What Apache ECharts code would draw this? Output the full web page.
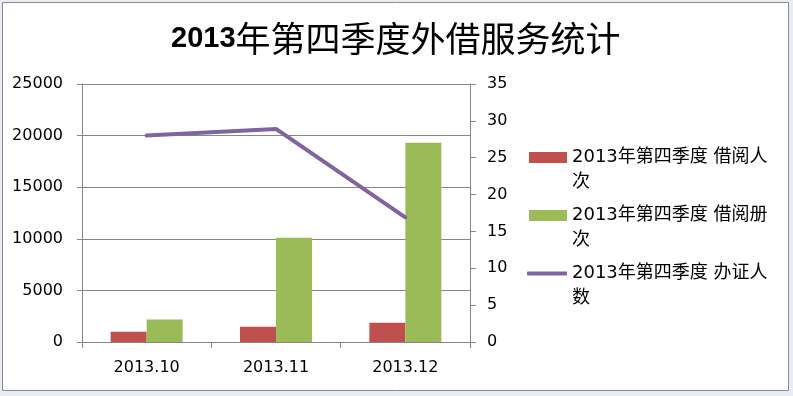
<!DOCTYPE html>
<html>
<head>
<meta charset="utf-8">
<script src="https://cdn.jsdelivr.net/npm/echarts@6/dist/echarts.min.js"></script>
<style>html,body{margin:0;padding:0;}#c{width:793px;height:396px;}</style>
</head>
<body>
<div id="c"></div>
<script>
const categories = ['2013.10', '2013.11', '2013.12'];
const borrowPeople = [1000, 1480, 1870];
const borrowBooks = [2170, 10100, 19300];
const cardsIssued = [28, 28.9, 16.9];
const leftTicks = { min: 0, max: 25000, interval: 5000 };
const rightTicks = { min: 0, max: 35, interval: 5 };
const names = ['2013年第四季度 借阅人次', '2013年第四季度 借阅册次', '2013年第四季度 办证人数'];
const colors = ['#C0504D', '#9BBB59', '#8064A2'];

const chart = echarts.init(document.getElementById('c'), null, { renderer: 'canvas' });
const axisGray = '#868686';
const legendText = {
  fontSize: 18, lineHeight: 25, color: '#000',
  fontFamily: 'DejaVu Sans, Noto Sans CJK SC'
};
const fmt = n => ' \n' + n.slice(0, -1) + '\n' + n.slice(-1);
const axisFont = { fontSize: 16, color: '#000', fontFamily: 'DejaVu Sans' };

chart.setOption({
  backgroundColor: '#E9ECF5',
  animation: false,
  graphic: [{
    type: 'rect', z: -10, silent: true,
    shape: { x: 2.5, y: 2.5, width: 786, height: 388 },
    style: { fill: '#fff', stroke: '#8a8a8a', lineWidth: 1 }
  }],
  title: {
    text: '{a|2013}{b|年第四季度外借服务统计}',
    left: 166, top: 16,
    textStyle: {
      rich: {
        a: { fontFamily: 'Liberation Sans Narrow, Liberation Sans', fontWeight: 'bold', fontSize: 29, color: '#000' },
        b: { fontFamily: 'Noto Sans CJK SC', fontWeight: 'normal', fontSize: 35, color: '#000' }
      }
    }
  },
  legend: [
    { data: [{ name: names[0], icon: 'rect' }], left: 529, top: 120, orient: 'vertical', padding: 0,
      itemWidth: 38, itemHeight: 11, textStyle: legendText, formatter: fmt, selectedMode: false },
    { data: [{ name: names[1], icon: 'rect' }], left: 529, top: 178, orient: 'vertical', padding: 0,
      itemWidth: 38, itemHeight: 11, textStyle: legendText, formatter: fmt, selectedMode: false },
    { data: [{ name: names[2], icon: 'roundRect' }], left: 527, top: 236, orient: 'vertical', padding: 0,
      itemWidth: 40, itemHeight: 4, textStyle: legendText, formatter: fmt, selectedMode: false }
  ],
  grid: { left: 82, right: 323, top: 84, bottom: 54 },
  xAxis: {
    type: 'category', data: categories,
    axisLine: { lineStyle: { color: axisGray, width: 1 } },
    axisTick: { show: true, length: 6, lineStyle: { color: axisGray } },
    axisLabel: Object.assign({ margin: 18 }, axisFont)
  },
  yAxis: [{
    type: 'value', min: leftTicks.min, max: leftTicks.max, interval: leftTicks.interval,
    axisLine: { show: true, lineStyle: { color: axisGray } },
    axisTick: { show: true, length: 5, lineStyle: { color: axisGray } },
    axisLabel: Object.assign({ margin: 19, formatter: v => String(v) }, axisFont),
    splitLine: { show: true, lineStyle: { color: axisGray, width: 1 } }
  }, {
    type: 'value', position: 'right', min: rightTicks.min, max: rightTicks.max, interval: rightTicks.interval,
    axisLine: { show: true, lineStyle: { color: axisGray } },
    axisTick: { show: true, length: 6, lineStyle: { color: axisGray } },
    axisLabel: Object.assign({ margin: 17, formatter: v => String(v) }, axisFont),
    splitLine: { show: false }
  }],
  series: [{
    name: names[0], type: 'bar', data: borrowPeople, barWidth: 36, barGap: '0%',
    itemStyle: { color: colors[0] }
  }, {
    name: names[1], type: 'bar', data: borrowBooks, barWidth: 36, barGap: '0%',
    itemStyle: { color: colors[1] }
  }, {
    name: names[2], type: 'line', yAxisIndex: 1, data: cardsIssued, showSymbol: false, symbol: 'none',
    lineStyle: { color: colors[2], width: 4, cap: 'round' }, itemStyle: { color: colors[2] }, z: 5
  }]
});
</script>
</body>
</html>
